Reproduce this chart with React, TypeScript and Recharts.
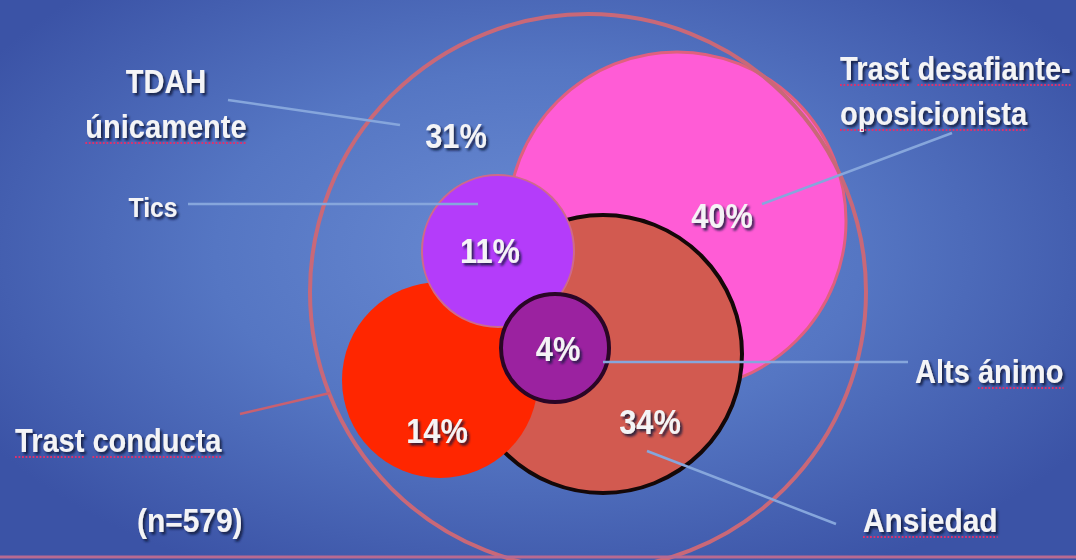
import React, { useLayoutEffect, useRef, useState } from 'react';
import { ScatterChart, Scatter, XAxis, YAxis } from 'recharts';

const W = 1076;
const H = 560;

// Groups (outer circle = all TDAH patients)
const groupNames = ['TDAH', 'Trast desafiante-oposicionista', 'Ansiedad', 'Trast conducta', 'Tics', 'Alts ánimo'];
const groupCx = [588, 677, 603, 440, 498, 555];
const groupCy = [292, 221, 354, 380, 251, 348];
const groupR = [278, 169, 139, 98, 76, 54];
const groupFill = ['none', '#ff5cd6', '#d25a50', '#ff2600', '#b43cfa', '#9b22a0'];
const groupStroke = ['#c96878', '#e0607e', '#140808', 'none', '#cf6a8a', '#2a0626'];
const groupStrokeW = [4, 3, 4, 0, 2, 4];
// draw order (index into groups)
const drawOrder = [1, 0, 2, 3, 4, 5];

// Percentages
const pctValues = [31, 40, 11, 4, 14, 34];
const pctX = [456, 722, 490, 558, 437, 650];
const pctY = [148, 228, 263, 361, 443, 434];

// Labels
const labelText = ['TDAH', 'únicamente', 'Tics', 'Trast desafiante-', 'oposicionista', 'Alts ánimo', 'Ansiedad', 'Trast conducta', '(n=579)'];
const labelX = [166, 166, 153, 840, 840, 915, 863, 15, 137];
const labelY = [93, 138, 217, 80, 125, 383, 532, 452, 532];
const labelAnchor = ['middle', 'middle', 'middle', 'start', 'start', 'start', 'start', 'start', 'start'];
const labelSize = [33, 33, 28, 33, 33, 33, 34, 33, 34];
const labelUnderlined = [[], [0], [], [0, 1], [0], [1], [0], [0, 1], []];

// Leader lines
const leaderFrom = [[228, 100], [188, 204], [952, 133], [603, 362], [647, 451], [240, 414]];
const leaderTo = [[400, 125], [478, 204], [762, 204], [908, 362], [836, 524], [330, 393]];
const leaderColor = ['#86a6dc', '#86a6dc', '#86a6dc', '#86a6dc', '#86a6dc', '#c86070'];

const SCALE_X = 0.88;
const FONT = '"Liberation Sans", Arial, sans-serif';

const circleData = drawOrder.map((i) => ({
  x: groupCx[i],
  y: groupCy[i],
  r: groupR[i],
  fill: groupFill[i],
  stroke: groupStroke[i],
  sw: groupStrokeW[i],
  name: groupNames[i],
}));

const pctData = pctValues.map((v, i) => ({ x: pctX[i], y: pctY[i], text: `${v}%`, anchor: 'middle', size: 35, under: [] as number[] }));
const labelData = labelText.map((t, i) => ({
  x: labelX[i],
  y: labelY[i],
  text: t,
  anchor: labelAnchor[i],
  size: labelSize[i],
  under: labelUnderlined[i],
}));

// pixels per data unit (axes map domain exactly onto the plot)
const PX = W / W;

function CircleShape(props: any) {
  const { cx, cy, payload } = props;
  const r = payload.r * PX;
  return (
    <g>
      <defs>
        <filter id="txtShadow" x="-20%" y="-40%" width="140%" height="180%">
          <feDropShadow dx="2.5" dy="2.5" stdDeviation="1" floodColor="#10123a" floodOpacity="0.85" />
        </filter>
      </defs>
      <circle
        cx={cx}
        cy={cy}
        r={r}
        fill={payload.fill}
        stroke={payload.stroke}
        strokeWidth={payload.sw}
      />
    </g>
  );
}

function TextShape(props: any) {
  const { cx, cy, payload } = props;
  const ref = useRef<SVGTextElement>(null);
  const [segs, setSegs] = useState<[number, number][]>([]);
  useLayoutEffect(() => {
    const el = ref.current;
    if (!el || !payload.under.length) return;
    const words = payload.text.split(' ');
    const out: [number, number][] = [];
    let idx = 0;
    words.forEach((w: string, wi: number) => {
      if (payload.under.includes(wi)) {
        try {
          const s = el.getStartPositionOfChar(idx).x;
          const e = el.getEndPositionOfChar(idx + w.length - 1).x;
          out.push([s, e]);
        } catch (err) {
          /* ignore */
        }
      }
      idx += w.length + 1;
    });
    setSegs(out);
  }, [payload.text]);
  return (
    <g transform={`translate(${cx},${cy}) scale(${SCALE_X},1)`}>
      <text
        ref={ref}
        x={0}
        y={0}
        fill="#f4f4f6"
        textAnchor={payload.anchor}
        fontFamily={FONT}
        fontWeight={700}
        fontSize={payload.size}
        filter="url(#txtShadow)"
      >
        {payload.text}
      </text>
      {segs.map(([s, e], k) => (
        <line
          key={k}
          x1={s}
          x2={e}
          y1={5}
          y2={5}
          stroke="#e0306c"
          strokeWidth={2}
          strokeDasharray="2 2"
        />
      ))}
    </g>
  );
}

const NoShape = () => <g />;

export default function App() {
  return (
    <div
      style={{
        position: 'absolute',
        left: 0,
        top: 0,
        width: W,
        height: H,
        background:
          'radial-gradient(ellipse 60% 65% at 50% 45%, #6a8bd3 0%, #5576c3 50%, #3b53a6 100%)',
      }}
    >
      <ScatterChart width={W} height={H} margin={{ top: 0, right: 0, bottom: 0, left: 0 }}>
        <XAxis type="number" dataKey="x" domain={[0, W]} hide allowDataOverflow />
        <YAxis type="number" dataKey="y" domain={[0, H]} reversed hide allowDataOverflow />
        <Scatter data={circleData} shape={(p: any) => <CircleShape {...p} />} isAnimationActive={false} />
        {leaderFrom.map((f, i) => (
          <Scatter
            key={`l${i}`}
            data={[
              { x: f[0], y: f[1] },
              { x: leaderTo[i][0], y: leaderTo[i][1] },
            ]}
            line={{ stroke: leaderColor[i], strokeWidth: 2.5 }}
            shape={NoShape}
            isAnimationActive={false}
          />
        ))}
        <Scatter
          data={[
            { x: 0, y: 557 },
            { x: W, y: 557 },
          ]}
          line={{ stroke: '#b86a92', strokeWidth: 3 }}
          shape={NoShape}
          isAnimationActive={false}
        />
        <Scatter data={pctData} shape={(p: any) => <TextShape {...p} />} isAnimationActive={false} />
        <Scatter data={labelData} shape={(p: any) => <TextShape {...p} />} isAnimationActive={false} />
      </ScatterChart>
    </div>
  );
}
